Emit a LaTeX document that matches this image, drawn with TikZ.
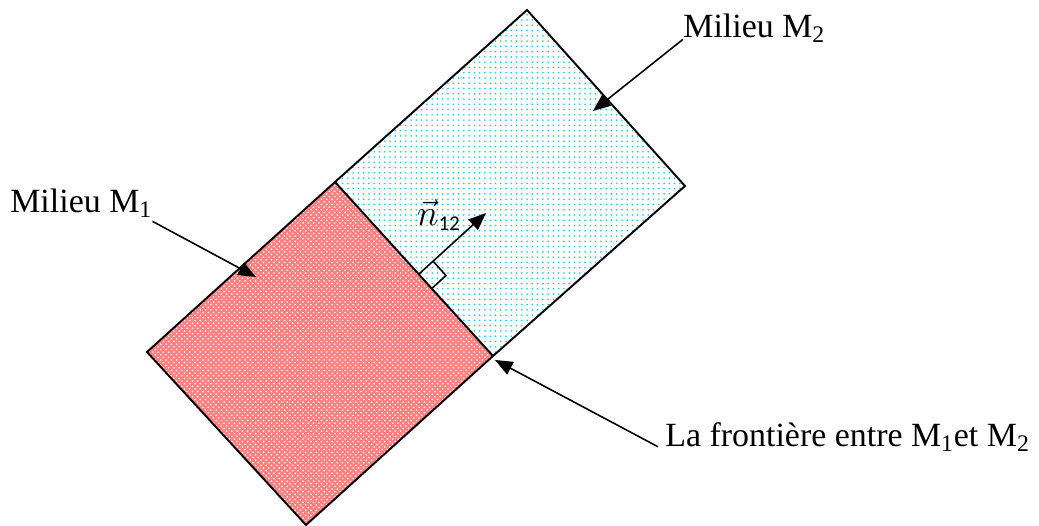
\documentclass[tikz,border=0pt]{standalone}
\usepackage{fontspec}
\setmainfont{Liberation Serif}
\newfontfamily\calibfont{Carlito}
\usetikzlibrary{calc,patterns,arrows.meta}
\begin{document}
\begin{tikzpicture}[x=0.02cm, y=-0.02cm,
    every node/.style={font=\fontsize{19.3}{23}\selectfont, inner sep=0pt},
    wall/.style={draw=black, line width=1.1pt, line join=miter},
    arr/.style={-{Triangle[length=10pt, width=8pt]}, line width=0.9pt},
    medone/.style={fill=red!50, postaction={pattern=crosshatch dots, pattern color=white}},
    medtwo/.style={fill=white, postaction={pattern=dots, pattern color=cyan!80!blue}}
]
\useasboundingbox (0,0) rectangle (1039,526);
% corners of the two media
\coordinate (A) at (147,352);
\coordinate (B) at (335,182);
\coordinate (C) at (493,356);
\coordinate (D) at (306,525);
\coordinate (E) at (527,10);
\coordinate (F) at (685,186);
\fill[medone] (A) -- (B) -- (C) -- (D) -- cycle;
\fill[medtwo] (B) -- (E) -- (F) -- (C) -- cycle;
\draw[wall] (A) -- (B) -- (E) -- (F) -- (C) -- (D) -- cycle;
\draw[wall] (B) -- (C);
% normal vector on the boundary
\coordinate (P) at ($(B)!0.53!(C)$);
\coordinate (T) at (486,213);
\coordinate (Q) at ($(P)!11pt!(T)$);
\coordinate (S) at ($(P)!11pt!(C)$);
\draw[arr] (P) -- (T);
\draw[line width=0.9pt] (Q) -- ($(Q)+(S)-(P)$) -- (S);
\node[font=\fontsize{21}{24}\selectfont] (n12) at (439,215) {$\vec{n}_{\mbox{\calibfont\fontsize{12}{14}\selectfont 12}}$};
% labels
\node[anchor=west] (m1) at (10,203) {Milieu M\textsubscript{1}};
\node[anchor=west] (m2) at (683,28) {Milieu M\textsubscript{2}};
\node[anchor=west] (fr) at (665,437) {La frontière entre M\textsubscript{1}et M\textsubscript{2}};
\coordinate (t1) at (256,277);
\coordinate (t2) at (593,111);
\coordinate (t3) at (495,360);
\draw[arr] ([yshift=-2pt]m1.south east) -- (t1);
\draw[arr] ([yshift=2pt]m2.south west) -- (t2);
\draw[arr] ([xshift=-4pt,yshift=3pt]fr.south west) -- (t3);
\end{tikzpicture}
\end{document}
